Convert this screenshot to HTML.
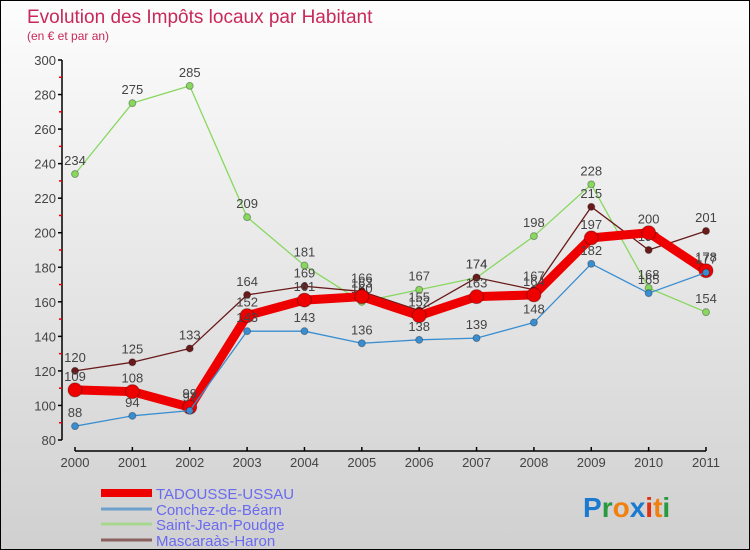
<!DOCTYPE html>
<html><head><meta charset="utf-8"><style>
body{margin:0;}
#wrap{position:relative;width:748px;height:548px;border:1px solid #000;background:linear-gradient(#fdfdfd,#d0d0d0);font-family:"Liberation Sans",sans-serif;overflow:hidden}
</style></head><body>
<div id="wrap">
<svg id="chart" width="748" height="548"></svg>
</div>
<script>
const years=["2000","2001","2002","2003","2004","2005","2006","2007","2008","2009","2010","2011"];
const tadousse=[109,108,99,152,161,163,152,163,164,197,200,178];
const conchez=[88,94,97,143,143,136,138,139,148,182,165,177];
const saintJean=[234,275,285,209,181,160,167,174,198,228,168,154];
const mascaraas=[120,125,133,164,169,166,155,174,167,215,190,201];
const yTicks=[80,100,120,140,160,180,200,220,240,260,280,300];
const seriesNames=["TADOUSSE-USSAU","Conchez-de-Béarn","Saint-Jean-Poudge","Mascaraàs-Haron"];

const NS="http://www.w3.org/2000/svg";
const svg=document.getElementById('chart');
function xPos(i){return 74+i*(705-74)/(years.length-1);}
function yPos(v){return 439-(v-80)*(380/220);}
function mk(tag,attrs,parent){const e=document.createElementNS(NS,tag);for(const k in attrs)e.setAttribute(k,attrs[k]);(parent||svg).appendChild(e);return e;}

let t=mk('text',{x:26,y:22,fill:'#c8285a','font-size':19});
t.textContent='Evolution des Impôts locaux par Habitant';


t=mk('text',{x:26,y:39,fill:'#c8285a','font-size':12});
t.textContent='(en € et par an)';



// y axis
let ax=mk('line',{x1:61,y1:yPos(300),x2:61,y2:yPos(80),stroke:'#000','stroke-width':1.5});


yTicks.forEach((v,i)=>{
  const tk=mk('line',{x1:57,x2:61,y1:yPos(v),y2:yPos(v),stroke:'#000','stroke-width':1.5});
  
  
  const l=mk('text',{x:55,y:yPos(v)+5,'text-anchor':'end','font-size':13,fill:'#444'});
  l.textContent=v;
  
  
  if(i<yTicks.length-1){
    const m=mk('line',{x1:58,x2:61,y1:yPos(v+10),y2:yPos(v+10),stroke:'#e00','stroke-width':1.5});
    
    
  }
});
// x axis
ax=mk('line',{x1:xPos(0),y1:450,x2:xPos(years.length-1),y2:450,stroke:'#000','stroke-width':1.5});


years.forEach((y,i)=>{
  const tk=mk('line',{x1:xPos(i),x2:xPos(i),y1:446,y2:450,stroke:'#000','stroke-width':1.5});
  
  
  const l=mk('text',{x:xPos(i),y:466,'text-anchor':'middle','font-size':13,fill:'#444'});
  l.textContent=y;
  
  
});

function drawSeries(data,color,w,r,name){
  const g=mk('g',{});
  
  
  const p=mk('polyline',{points:data.map((v,i)=>xPos(i)+','+yPos(v)).join(' '),fill:'none',stroke:color,'stroke-width':w,'stroke-linejoin':'round'},g);
  
  
  data.forEach((v,i)=>{
    const c=mk('circle',{cx:xPos(i),cy:yPos(v),r:r,fill:color,stroke:'rgba(0,0,0,0.3)','stroke-width':1},g);
    
    
    const l=mk('text',{x:xPos(i),y:yPos(v)-9,'text-anchor':'middle','font-size':13,fill:'#444'},g);
    l.textContent=v;
    
    
  });
}
drawSeries(saintJean,'#88d860',1.3,3.5,'saint-jean-poudge');
drawSeries(mascaraas,'#6a1a1a',1.3,3.5,'mascaraas-haron');
drawSeries(tadousse,'#ee0000',9,7,'tadousse-ussau');
drawSeries(conchez,'#3a8ed0',1.3,3.5,'conchez-de-bearn');

// legend
const lcolors=['#ee0000','#6ea0cc','#a8d890','#8a6060'];
const lwidths=[8,3,3,3];
const lys=[491,507,522,538];
seriesNames.forEach((n,i)=>{
  const ln=mk('line',{x1:100,x2:151,y1:lys[i]+1,y2:lys[i]+1,stroke:lcolors[i],'stroke-width':lwidths[i]});
  
  
  const l=mk('text',{x:155,y:lys[i]+7,'font-size':15,fill:'#6a6af0'});
  l.textContent=n;
  
  
});
// logo
const logo=mk('text',{x:582,y:516,'font-size':28,'font-weight':'bold'});


[['P','#1a7ad0'],['r','#2a9a40'],['o','#f08010'],['x','#1a7ad0'],['i','#e03010'],['t','#f08010'],['i','#2a9a40']].forEach(([c,col])=>{
  const s=mk('tspan',{fill:col},logo);s.textContent=c;
});
</script>
</body></html>
